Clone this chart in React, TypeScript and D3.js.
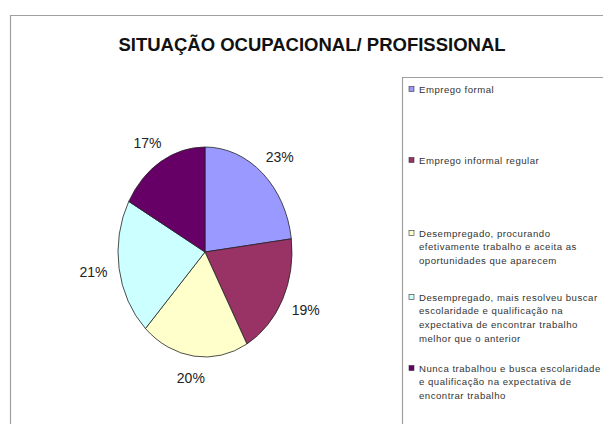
import React from "react";
import * as d3 from "d3";

const categories = [
  "Emprego formal",
  "Emprego informal regular",
  "Desempregado, procurando efetivamente trabalho e aceita as oportunidades que aparecem",
  "Desempregado, mais resolveu buscar escolaridade e qualificação na expectativa de encontrar trabalho melhor que o anterior",
  "Nunca trabalhou e busca escolaridade e qualificação na expectativa de encontrar trabalho",
];
const legendLines = [
  ["Emprego formal"],
  ["Emprego informal regular"],
  ["Desempregado, procurando", "efetivamente trabalho e aceita as", "oportunidades que aparecem"],
  ["Desempregado, mais resolveu buscar", "escolaridade e qualificação na", "expectativa de encontrar trabalho", "melhor que o anterior"],
  ["Nunca trabalhou e busca escolaridade", "e qualificação na expectativa de", "encontrar trabalho"],
];
const values = [23, 19, 20, 21, 17];
const colors = ["#9999FF", "#993366", "#FFFFCC", "#CCFFFF", "#660066"];

const W = 603;
const H = 424;
const font = "Arial, 'Liberation Sans', sans-serif";

export default function App() {
  const cx = 205;
  const cy = 252;
  const rx = 87;
  const ry = 105;

  const pie = d3.pie<number>().sort(null).value((d) => d);
  const arcs = pie(values);
  const arc = d3.arc<d3.PieArcDatum<number>>().innerRadius(0).outerRadius(ry);

  // legend layout
  const legX = 402;
  const legY = 77;
  const entryTop = [89, 160, 233, 297, 368];
  const lineH = 13.8;

  return (
    <svg
      width={W}
      height={H}
      style={{ position: "absolute", left: 0, top: 0, background: "#fff" }}
      fontFamily={font}
    >
      <rect x={0} y={0} width={W} height={H} fill="#fff" />
      {/* chart area border */}
      <path d={`M10.5,${H} V15.5 H${W}`} fill="none" stroke="#a0a0a0" strokeWidth={1.2} />

      <text x={312} y={51} textAnchor="middle" fontSize={18.5} fontWeight="bold" fill="#111">
        SITUAÇÃO OCUPACIONAL/ PROFISSIONAL
      </text>

      <g transform={`translate(${cx},${cy}) scale(${rx / ry},1)`}>
        {arcs.map((a, i) => (
          <path
            key={categories[i]}
            d={arc(a) || ""}
            fill={colors[i]}
            stroke="#222"
            strokeWidth={0.8}
            vectorEffect="non-scaling-stroke"
          />
        ))}
      </g>

      {arcs.map((a, i) => {
        const mid = (a.startAngle + a.endAngle) / 2;
        const x = cx + Math.sin(mid) * (rx + 26);
        const y = cy - Math.cos(mid) * (ry + 22);
        return (
          <text
            key={"l" + i}
            x={x}
            y={y}
            textAnchor="middle"
            dominantBaseline="central"
            fontSize={14}
            fill="#222"
          >
            {values[i]}%
          </text>
        );
      })}

      {/* legend */}
      <path d={`M${legX + 0.5},${H} V${legY + 0.5} H${W}`} fill="none" stroke="#a0a0a0" strokeWidth={1.2} />
      {legendLines.map((lines, i) => (
        <g key={"lg" + i}>
          <rect
            x={409}
            y={entryTop[i] - 2.5}
            width={5}
            height={5}
            fill={colors[i]}
            stroke="#333"
            strokeWidth={0.6}
          />
          {lines.map((t, j) => (
            <text
              key={j}
              x={419}
              y={entryTop[i] + j * lineH}
              dominantBaseline="central"
              fontSize={9.6}
              letterSpacing={0.5}
              fill="#333"
            >
              {t}
            </text>
          ))}
        </g>
      ))}
    </svg>
  );
}
